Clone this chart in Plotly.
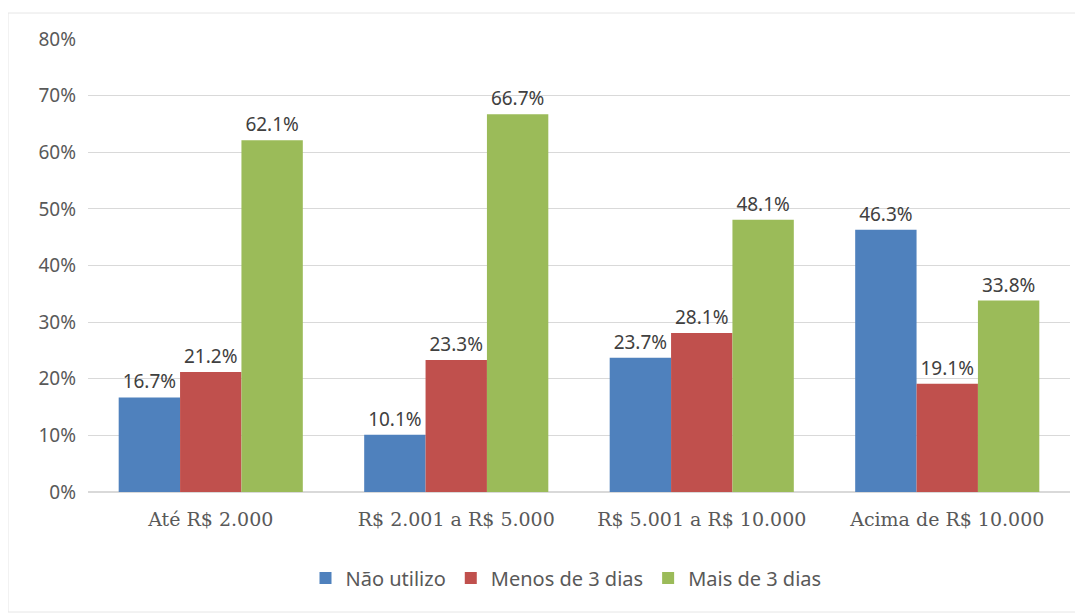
import plotly.graph_objects as go

categories = ["Até R$ 2.000", "R$ 2.001 a R$ 5.000", "R$ 5.001 a R$ 10.000", "Acima de R$ 10.000"]
nao_utilizo = [16.7, 10.1, 23.7, 46.3]
menos_3 = [21.2, 23.3, 28.1, 19.1]
mais_3 = [62.1, 66.7, 48.1, 33.8]
series_names = ["Não utilizo", "Menos de 3 dias", "Mais de 3 dias"]
colors = ["#4F81BD", "#C0504D", "#9BBB59"]

fig = go.Figure()
for name, vals, col in zip(series_names, [nao_utilizo, menos_3, mais_3], colors):
    fig.add_trace(go.Bar(
        x=categories, y=vals, name=name, marker_color=col, marker_line_width=0,
        text=[f"{v:.1f}%" for v in vals], textposition="outside",
        textfont=dict(family="Noto Sans", size=19, color="#404040"),
        cliponaxis=False,
    ))

# page body has an 8px margin; figure coords = page coords - 8
L, R, T, B = 80, 13, 31, 123
W, H = 1075, 607
pw, ph = W - L - R, H - T - B
y0px = H - B  # plot bottom in figure px

fig.update_layout(
    width=W, height=H,
    margin=dict(l=L, r=R, t=T, b=B),
    barmode="group", bargap=0.25, bargroupgap=0,
    plot_bgcolor="white", paper_bgcolor="white",
    showlegend=True,
    legend=dict(orientation="h", x=(558 - L) / pw, xanchor="center",
                y=(y0px - 570) / ph, yanchor="middle",
                font=dict(family="Noto Sans", size=20, color="#595959"),
                traceorder="normal"),
    xaxis=dict(tickfont=dict(family="DejaVu Serif", size=19, color="#595959"),
               showline=False, ticks="", showgrid=False, ticklabelstandoff=14),
    yaxis=dict(range=[0, 80], dtick=10, ticksuffix="%",
               tickfont=dict(family="Noto Sans", size=19, color="#595959"),
               gridcolor="#D9D9D9", zeroline=True, zerolinecolor="#D9D9D9",
               showline=False, ticks="", ticklabelstandoff=11),
    shapes=[dict(type="rect", xref="paper", yref="paper",
                 x0=(0 - L) / pw, x1=(1070 - L) / pw,
                 y0=(y0px - 604) / ph, y1=(y0px - 5) / ph,
                 line=dict(color="#E6E6E6", width=1), fillcolor="rgba(0,0,0,0)",
                 layer="below")],
)

fig.write_html("out.html")
